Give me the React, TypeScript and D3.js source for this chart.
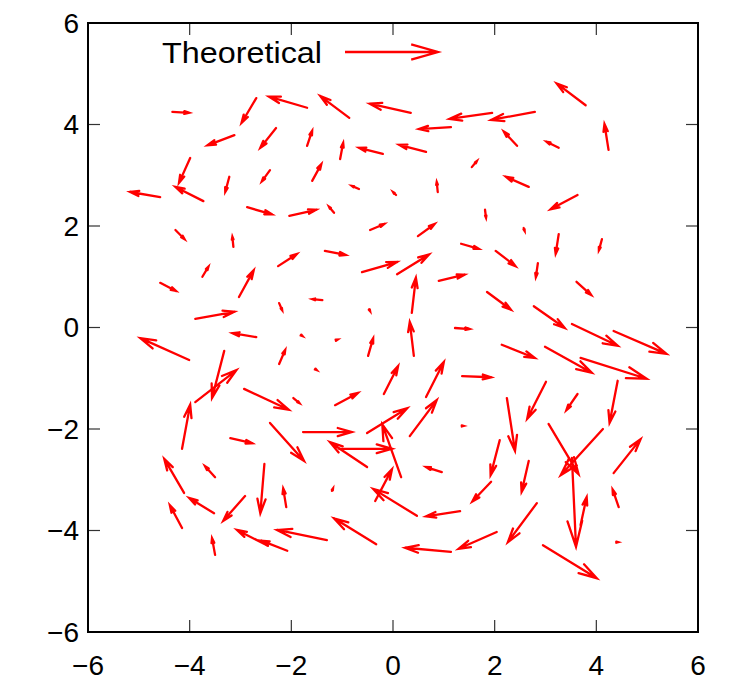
import React, { useEffect, useRef } from "react";
import * as d3 from "d3";

// vector tails (x, y) and components (dx, dy)
const xs = [
  -4.34, -2.69, -1.69, -0.86, 0.35, 1.14, 1.95, 2.79, 3.79, 4.24,
  -3.12, -2.3, -1.69, -1.04, -0.2, 0.65, 2.44, 3.26, -3.99, -2.42,
  -3.22, -1.59, -0.67, 0.06, 0.88, 1.55, 2.67, 3.63, -4.58, -3.73,
  -2.87, -2.04, -1.16, 1.81, -0.45, 0.49, 2.57, -4.28, -3.14, 3.26,
  4.11, -2.26, -1.34, 1.34, 2.02, -3.75, -3.03, -4.58, 2.85, 3.61,
  -0.61, 0.08, 0.9, 0.37, 1.85, -2.24, -1.39, -0.47, -3.89, -2.69,
  2.77, 3.52, 4.34, 1.22, 0.41, -1.81, -1.12, -0.49, -4.01, -3.32,
  -3.89, -2.24, 2.14, 2.99, 3.69, -1.53, -0.18, 0.65, 1.36, -1.96,
  -1.14, -2.93, 3.01, 3.63, 4.42, 2.24, -4.15, -2.42, -3.2, -1.77,
  -0.51, 0.33, 0.16, -0.51, -1.06, 1.36, 0.96, 2.1, 3.06, 4.13,
  4.34, -3.5, -2.53, -4.11, -4.15, -3.52, -2.91, -2.1, -2.48, -2.08,
  -1.3, -3.5, -0.35, 0.47, -1.2, 1.32, 1.93, -0.33, 1.14, 2.04,
  2.67, 3.52, 3.69, 4.44, 2.83, 2.95, 4.4,
];
const ys = [
  4.25, 4.52, 4.33, 4.13, 4.23, 3.95, 4.23, 4.25, 4.38, 3.5,
  3.79, 3.93, 3.58, 3.32, 3.42, 3.46, 3.58, 3.54, 3.34, 3.1,
  2.97, 2.89, 2.73, 2.61, 2.67, 3.16, 2.77, 2.61, 2.57, 2.49,
  2.37, 2.2, 2.26, 2.32, 1.92, 1.8, 1.96, 1.92, 1.59, 1.84,
  1.74, 1.21, 1.51, 1.65, 1.51, 1.0, 0.6, 0.88, 1.27, 0.9,
  1.09, 1.05, 0.92, 0.29, 0.7, 0.48, 0.54, 0.36, 0.17, -0.19,
  0.42, 0.07, -0.07, -0.01, -0.56, -0.15, -0.25, -0.56, -0.64, -0.46,
  -1.47, -0.72, -0.34, -0.38, -0.6, -0.82, -1.31, -1.37, -0.96, -1.39,
  -1.53, -1.21, -1.07, -1.31, -1.05, -1.39, -2.39, -1.88, -2.18, -2.06,
  -2.08, -2.14, -2.95, -2.75, -2.39, -1.94, -2.85, -2.22, -1.9, -2.0,
  -2.87, -2.95, -2.69, -3.26, -3.95, -3.66, -3.32, -3.54, -4.29, -4.4,
  -4.19, -4.48, -3.42, -3.71, -3.22, -3.62, -3.04, -4.27, -4.42, -4.03,
  -2.63, -2.57, -3.89, -3.54, -3.46, -4.29, -4.23,
];
const dxs = [
  0.33, -0.29, -0.75, -0.57, -0.81, -0.63, -0.84, -0.86, -0.57, -0.08,
  -0.53, -0.31, 0.1, 0.06, -0.47, -0.53, -0.26, -0.24, -0.22, -0.16,
  -0.08, 0.18, -0.14, -0.06, -0.02, 0.1, -0.45, -0.53, -0.59, -0.55,
  0.49, 0.53, -0.1, 0.02, 0.28, 0.33, 0.02, 0.18, -0.02, -0.06,
  -0.06, 0.37, 0.41, 0.35, 0.39, 0.12, 0.29, 0.31, -0.04, 0.29,
  0.69, 0.63, 0.51, 0.08, 0.47, 0.06, -0.2, 0.02, 0.77, -0.47,
  0.61, 0.9, 1.04, 0.29, -0.08, 0.03, 0.03, 0.1, -0.96, -0.24,
  0.81, 0.12, 0.65, 0.92, 1.3, 0.03, 0.28, 0.35, 0.57, 0.12,
  0.45, 0.88, -0.37, -0.22, -0.16, 0.16, 0.16, 0.67, 0.43, 0.96,
  0.79, 0.53, -0.37, -0.73, 1.04, 0.03, -0.31, -0.18, 0.59, -0.83,
  0.53, -0.2, -0.08, -0.39, -0.24, -0.49, -0.43, -0.06, -0.59, -0.51,
  -0.98, -0.06, 0.33, -0.86, 0.02, -0.67, -0.37, -0.83, -0.9, -0.75,
  -0.14, 0.08, 0.12, -0.12, -0.57, 1.06, 0.03,
];
const dys = [
  -0.02, -0.49, 0.22, 0.43, 0.18, -0.04, -0.12, -0.16, 0.43, 0.51,
  -0.2, -0.39, 0.3, 0.32, 0.12, 0.14, 0.28, 0.12, -0.49, -0.22,
  -0.3, 0.33, 0.06, 0.06, 0.2, 0.12, 0.2, -0.28, 0.1, 0.28,
  -0.14, 0.12, 0.12, -0.16, 0.12, 0.24, -0.06, -0.18, 0.2, -0.39,
  -0.22, 0.24, -0.08, -0.1, -0.3, 0.2, 0.53, -0.16, -0.28, -0.26,
  0.2, 0.39, 0.12, 0.69, -0.35, -0.14, 0.02, -0.04, 0.14, 0.08,
  -0.43, -0.43, -0.45, -0.02, 0.67, -0.02, 0.01, 0.35, 0.43, -0.93,
  0.63, 0.28, -0.26, -0.51, -0.41, -0.02, 0.55, 0.69, -0.02, -0.1,
  0.24, -0.41, -0.73, -0.32, -0.83, -1.04, 0.87, -0.75, -0.1, 0.0,
  0.49, 0.71, 1.04, 0.49, 0.0, 0.0, 0.1, -0.69, -0.99, -0.91,
  0.67, 0.22, -0.97, 0.67, 0.45, 0.3, -0.49, 0.37, 0.3, 0.2,
  0.2, 0.33, 0.63, 0.53, 0.05, -0.1, -0.39, 0.51, 0.08, -0.33,
  -0.61, -1.75, 0.55, 0.35, -0.77, -0.65, 0.0,
];
const xTicks = [-6, -4, -2, 0, 2, 4, 6];
const yTicks = [-6, -4, -2, 0, 2, 4, 6];
const legendLabel = "Theoretical";

const W = 734,
  H = 680;
const margin = { top: 23, right: 36, bottom: 48, left: 88 };
const RED = "#ff0000";
const FONT = "'Liberation Sans', Arial, Helvetica, sans-serif";

// gnuplot-style head: open V, length scaled with the shaft
const arrowPath = (x1: number, y1: number, x2: number, y2: number) => {
  const len = Math.hypot(x2 - x1, y2 - y1);
  if (len < 0.5) return `M${x1},${y1}L${x2 + 1},${y2}`;
  const hl = Math.max(2, len * 0.3);
  const ang = Math.atan2(y2 - y1, x2 - x1);
  const a = (16 * Math.PI) / 180;
  const bx1 = x2 - hl * Math.cos(ang - a),
    by1 = y2 - hl * Math.sin(ang - a);
  const bx2 = x2 - hl * Math.cos(ang + a),
    by2 = y2 - hl * Math.sin(ang + a);
  return `M${x1},${y1}L${x2},${y2}M${bx1},${by1}L${x2},${y2}L${bx2},${by2}`;
};

const App = () => {
  const ref = useRef<SVGSVGElement>(null);

  useEffect(() => {
    const svg = d3.select(ref.current);
    svg.selectAll("*").remove();

    const x = d3.scaleLinear().domain([-6, 6]).range([margin.left, W - margin.right]);
    const y = d3.scaleLinear().domain([-6, 6]).range([H - margin.bottom, margin.top]);
    const fmt = d3.format("d");

    // ticks on all four sides, pointing in
    const tl = 12;
    const tg = svg.append("g").attr("stroke", "#333").attr("stroke-width", 1.2);
    xTicks.slice(1, -1).forEach((t) => {
      tg.append("line").attr("x1", x(t)).attr("x2", x(t)).attr("y1", y(-6)).attr("y2", y(-6) - tl);
      tg.append("line").attr("x1", x(t)).attr("x2", x(t)).attr("y1", y(6)).attr("y2", y(6) + tl);
    });
    yTicks.slice(1, -1).forEach((t) => {
      tg.append("line").attr("x1", x(-6)).attr("x2", x(-6) + tl).attr("y1", y(t)).attr("y2", y(t));
      tg.append("line").attr("x1", x(6)).attr("x2", x(6) - tl).attr("y1", y(t)).attr("y2", y(t));
    });

    // tick labels
    svg
      .append("g")
      .selectAll("text")
      .data(xTicks)
      .enter()
      .append("text")
      .attr("x", (d) => x(d))
      .attr("y", H - 15)
      .attr("text-anchor", "middle")
      .attr("dominant-baseline", "central")
      .style("font-family", FONT)
      .style("font-size", "28px")
      .text((d) => fmt(d));
    svg
      .append("g")
      .selectAll("text")
      .data(yTicks)
      .enter()
      .append("text")
      .attr("x", margin.left - 9)
      .attr("y", (d) => y(d))
      .attr("text-anchor", "end")
      .attr("dominant-baseline", "central")
      .style("font-family", FONT)
      .style("font-size", "28px")
      .text((d) => fmt(d));

    // vectors
    svg
      .append("g")
      .selectAll("path")
      .data(xs.map((_, i) => i))
      .enter()
      .append("path")
      .attr("d", (i) => arrowPath(x(xs[i]), y(ys[i]), x(xs[i] + dxs[i]), y(ys[i] + dys[i])))
      .attr("fill", "none")
      .attr("stroke", RED)
      .attr("stroke-width", 2.3)
      .attr("stroke-linecap", "round")
      .attr("stroke-linejoin", "miter");

    // key
    const ky = 52;
    svg
      .append("text")
      .attr("x", 162)
      .attr("y", ky)
      .attr("dominant-baseline", "central")
      .attr("textLength", 160)
      .attr("lengthAdjust", "spacingAndGlyphs")
      .style("font-family", FONT)
      .style("font-size", "30px")
      .text(legendLabel);
    svg
      .append("path")
      .attr("d", arrowPath(345, ky, 438, ky))
      .attr("fill", "none")
      .attr("stroke", RED)
      .attr("stroke-width", 2.3);

    // frame
    svg
      .append("rect")
      .attr("x", x(-6))
      .attr("y", y(6))
      .attr("width", x(6) - x(-6))
      .attr("height", y(-6) - y(6))
      .attr("fill", "none")
      .attr("stroke", "#000")
      .attr("stroke-width", 2);
  }, []);

  return (
    <svg
      ref={ref}
      width={W}
      height={H}
      style={{ position: "absolute", left: 0, top: 0, background: "#fff" }}
    />
  );
};

export default App;
